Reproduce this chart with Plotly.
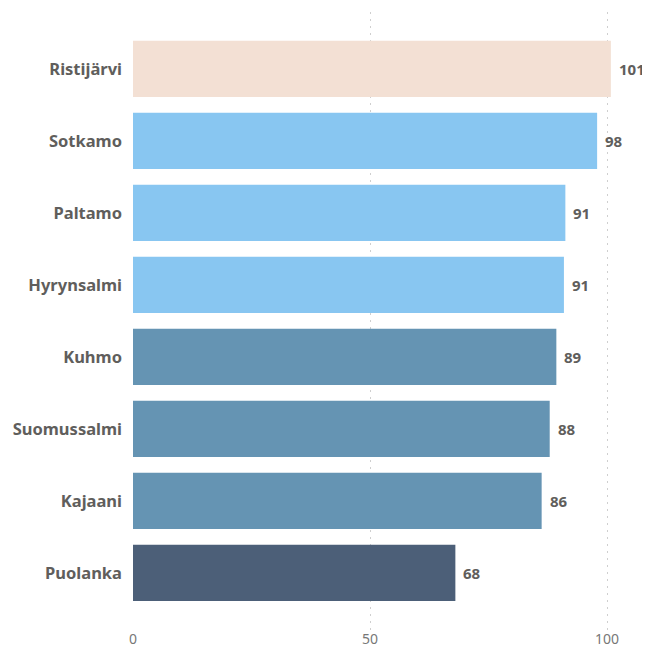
import plotly.graph_objects as go

categories = ["Ristijärvi", "Sotkamo", "Paltamo", "Hyrynsalmi", "Kuhmo", "Suomussalmi", "Kajaani", "Puolanka"]
values = [100.8, 97.9, 91.2, 90.9, 89.3, 87.9, 86.2, 68.0]
labels = ["101", "98", "91", "91", "89", "88", "86", "68"]
colors = ["#F3E0D4", "#88C6F1", "#88C6F1", "#88C6F1", "#6594B3", "#6594B3", "#6594B3", "#4C5F78"]
x_ticks = [0, 50, 100]

fig = go.Figure(go.Bar(
    x=values, y=categories, orientation="h",
    marker=dict(color=colors, line=dict(width=0)),
    width=0.78, hoverinfo="skip",
))

for c, v, t in zip(categories, values, labels):
    fig.add_annotation(x=v, y=c, text=f"<b>{t}</b>", showarrow=False,
                       xanchor="left", xshift=6,
                       font=dict(family="Noto Sans", size=15, color="#605E5C"))

fig.update_layout(
    width=642, height=644,
    margin=dict(l=125, r=5, t=4, b=20),
    plot_bgcolor="white", paper_bgcolor="white",
    showlegend=False,
    font=dict(family="Noto Sans"),
)
fig.update_xaxes(range=[0, 108], tickvals=x_ticks, showgrid=True,
                 gridcolor="#CFCFCF", griddash="2px,5px", gridwidth=1,
                 zeroline=False, showline=False, automargin=False,
                 tickfont=dict(family="Noto Sans", size=14, color="#777777"),
                 ticklabelstandoff=-3)
fig.update_yaxes(categoryorder="array", categoryarray=categories,
                 range=[7.82, -0.79], showgrid=False, zeroline=False,
                 automargin=False,
                 tickfont=dict(family="Noto Sans", size=16.5, color="#605E5C", weight="bold"),
                 ticklabelstandoff=10)

fig.write_html("out.html")
